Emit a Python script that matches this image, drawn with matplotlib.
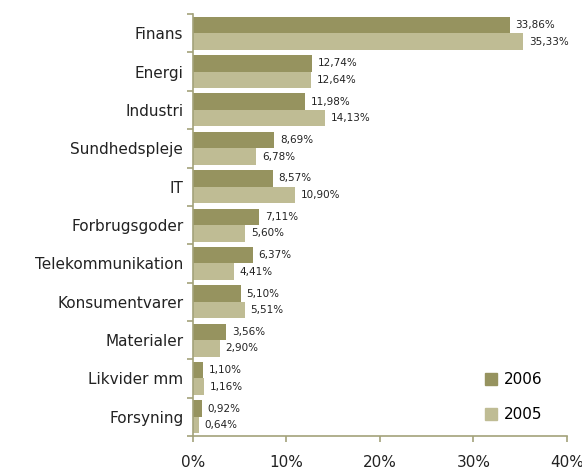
import numpy as np
import matplotlib.pyplot as plt
from matplotlib.patches import Patch

# Data
categories = ['Finans', 'Energi', 'Industri', 'Sundhedspleje', 'IT', 'Forbrugsgoder',
              'Telekommunikation', 'Konsumentvarer', 'Materialer', 'Likvider mm', 'Forsyning']
v2006 = [33.86, 12.74, 11.98, 8.69, 8.57, 7.11, 6.37, 5.10, 3.56, 1.10, 0.92]
v2005 = [35.33, 12.64, 14.13, 6.78, 10.90, 5.60, 4.41, 5.51, 2.90, 1.16, 0.64]
xticks = [0, 10, 20, 30, 40]

c2006 = '#96935f'
c2005 = '#bfbc94'
axis_col = '#a3a27a'

fig = plt.figure(figsize=(5.82, 4.7), dpi=100)
ax = fig.add_axes([0.3316, 0.0723, 0.6426, 0.8977])

n = len(categories)
y = np.arange(n)[::-1]
h = 0.43
ax.barh(y + h / 2, v2006, height=h, color=c2006, label='2006')
ax.barh(y - h / 2, v2005, height=h, color=c2005, label='2005')

for yi, a, b in zip(y, v2006, v2005):
    ax.text(a + 0.6, yi + h / 2, f'{a:.2f}%'.replace('.', ','), va='center', ha='left', fontsize=7.5, color='#222222')
    ax.text(b + 0.6, yi - h / 2, f'{b:.2f}%'.replace('.', ','), va='center', ha='left', fontsize=7.5, color='#222222')

ax.set_xlim(0, 40)
ax.set_ylim(-0.5, n - 0.5)
ax.set_xticks(xticks)
ax.set_xticklabels([f'{t}%' for t in xticks], fontsize=11, color='#222222')
ax.set_yticks(y)
ax.set_yticklabels(categories, fontsize=11, color='#222222')
ax.set_yticks(np.arange(-0.5, n, 1), minor=True)
ax.tick_params(axis='y', which='major', length=0, pad=7)
ax.tick_params(axis='y', which='minor', length=4, color=axis_col, width=1.2)
ax.tick_params(axis='x', length=4, color=axis_col, width=1.2, pad=10)

for s in ['top', 'right']:
    ax.spines[s].set_visible(False)
for s in ['left', 'bottom']:
    ax.spines[s].set_color(axis_col)
    ax.spines[s].set_linewidth(1.2)

handles = [Patch(color=c2006, label='2006'), Patch(color=c2005, label='2005')]
ax.legend(handles=handles, loc='lower right', bbox_to_anchor=(0.97, 0.0), frameon=False,
          fontsize=11, handlelength=0.8, handleheight=0.8, labelspacing=1.3, handletextpad=0.4)

fig.savefig('out.png', dpi=100)
